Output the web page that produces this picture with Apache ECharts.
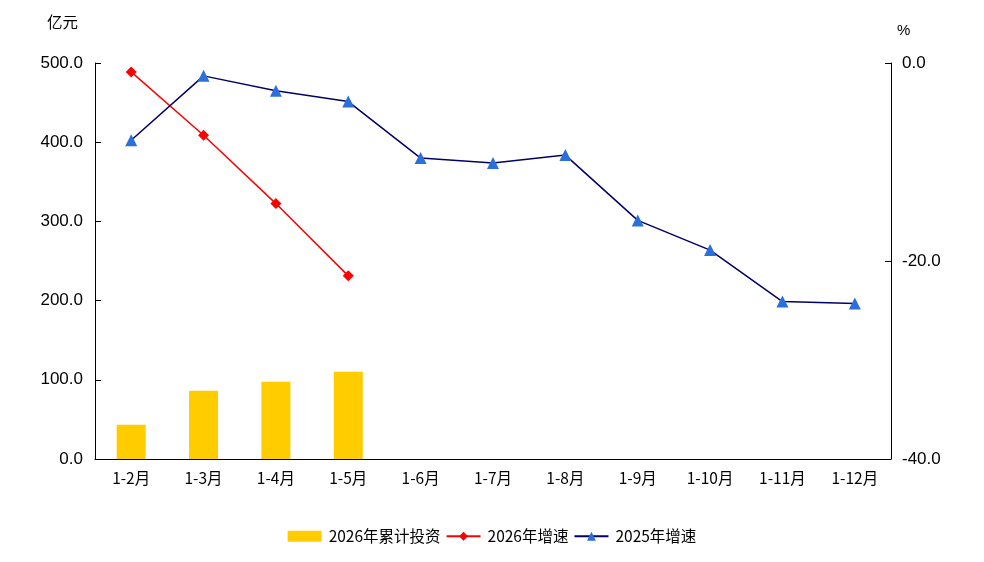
<!DOCTYPE html>
<html><head><meta charset="utf-8">
<script src="https://cdn.jsdelivr.net/npm/echarts@6/dist/echarts.min.js"></script>
<style>html,body{margin:0;padding:0;background:#fff}#c{width:984px;height:562px}</style>
</head><body><div id="c"></div>
<script>
const categories = ['1-2月','1-3月','1-4月','1-5月','1-6月','1-7月','1-8月','1-9月','1-10月','1-11月','1-12月'];
const invest2026 = [43.3, 86.2, 97.5, 110.1, null, null, null, null, null, null, null];
const growth2026 = [-0.9, -7.3, -14.2, -21.5, null, null, null, null, null, null, null];
const growth2025 = [-7.8, -1.3, -2.8, -3.9, -9.6, -10.1, -9.3, -15.9, -18.9, -24.1, -24.3];
const leftTicks = {min: 0, max: 500, interval: 100};
const rightTicks = {min: -40, max: 0, interval: 20};

const numFont = '"Liberation Sans", Arial, sans-serif';
const cjkFont = '"Noto Sans CJK SC", sans-serif';
const chart = echarts.init(document.getElementById('c'));
chart.setOption({
  animation: false,
  backgroundColor: '#fff',
  grid: {left: 95, right: 93, top: 63, bottom: 103, containLabel: false},
  legend: {
    bottom: 13, left: 'center', itemGap: 5, itemWidth: 34, itemHeight: 11,
    textStyle: {fontFamily: cjkFont, fontSize: 15.5, color: '#000', padding: [0, 0, 0, 2]},
    data: [
      {name: '2026年累计投资', icon: 'rect'},
      {name: '2026年增速'},
      {name: '2025年增速'}
    ]
  },
  xAxis: {
    type: 'category', data: categories,
    axisLine: {lineStyle: {color: '#000', width: 1}},
    axisTick: {inside: true, length: 6, lineStyle: {color: '#000'}},
    axisLabel: {fontFamily: cjkFont, fontSize: 15.5, color: '#000', margin: 11}
  },
  yAxis: [
    {
      type: 'value', name: '亿元', min: leftTicks.min, max: leftTicks.max, interval: leftTicks.interval,
      nameLocation: 'end', nameGap: 33,
      nameTextStyle: {fontFamily: cjkFont, fontSize: 15.5, color: '#000', align: 'right', padding: [0, 17, 0, 0]},
      axisLine: {show: true, lineStyle: {color: '#000'}},
      axisTick: {show: true, inside: true, length: 6, lineStyle: {color: '#000'}},
      splitLine: {show: false},
      axisLabel: {fontFamily: numFont, fontSize: 17, color: '#000', margin: 12, formatter: v => v.toFixed(1)}
    },
    {
      type: 'value', name: '%', min: rightTicks.min, max: rightTicks.max, interval: rightTicks.interval,
      position: 'right', nameLocation: 'end', nameGap: 25,
      nameTextStyle: {fontFamily: numFont, fontSize: 15, color: '#000', align: 'left', padding: [0, 0, 0, 6]},
      axisLine: {show: true, lineStyle: {color: '#000'}},
      axisTick: {show: true, inside: true, length: 6, lineStyle: {color: '#000'}},
      splitLine: {show: false},
      axisLabel: {fontFamily: numFont, fontSize: 17, color: '#000', margin: 11, formatter: v => v.toFixed(1)}
    }
  ],
  series: [
    {
      name: '2026年累计投资', type: 'bar', yAxisIndex: 0, data: invest2026,
      barWidth: 29, itemStyle: {color: '#FFCC00'}
    },
    {
      name: '2026年增速', type: 'line', yAxisIndex: 1, data: growth2026,
      symbol: 'diamond', symbolSize: 11, connectNulls: false,
      lineStyle: {color: '#FF0000', width: 1.5}, itemStyle: {color: '#FF0000'}
    },
    {
      name: '2025年增速', type: 'line', yAxisIndex: 1, data: growth2025,
      symbol: 'triangle', symbolSize: 12,
      lineStyle: {color: '#000066', width: 1.5}, itemStyle: {color: '#2B6FDB'}
    }
  ]
});
</script>
</body></html>
